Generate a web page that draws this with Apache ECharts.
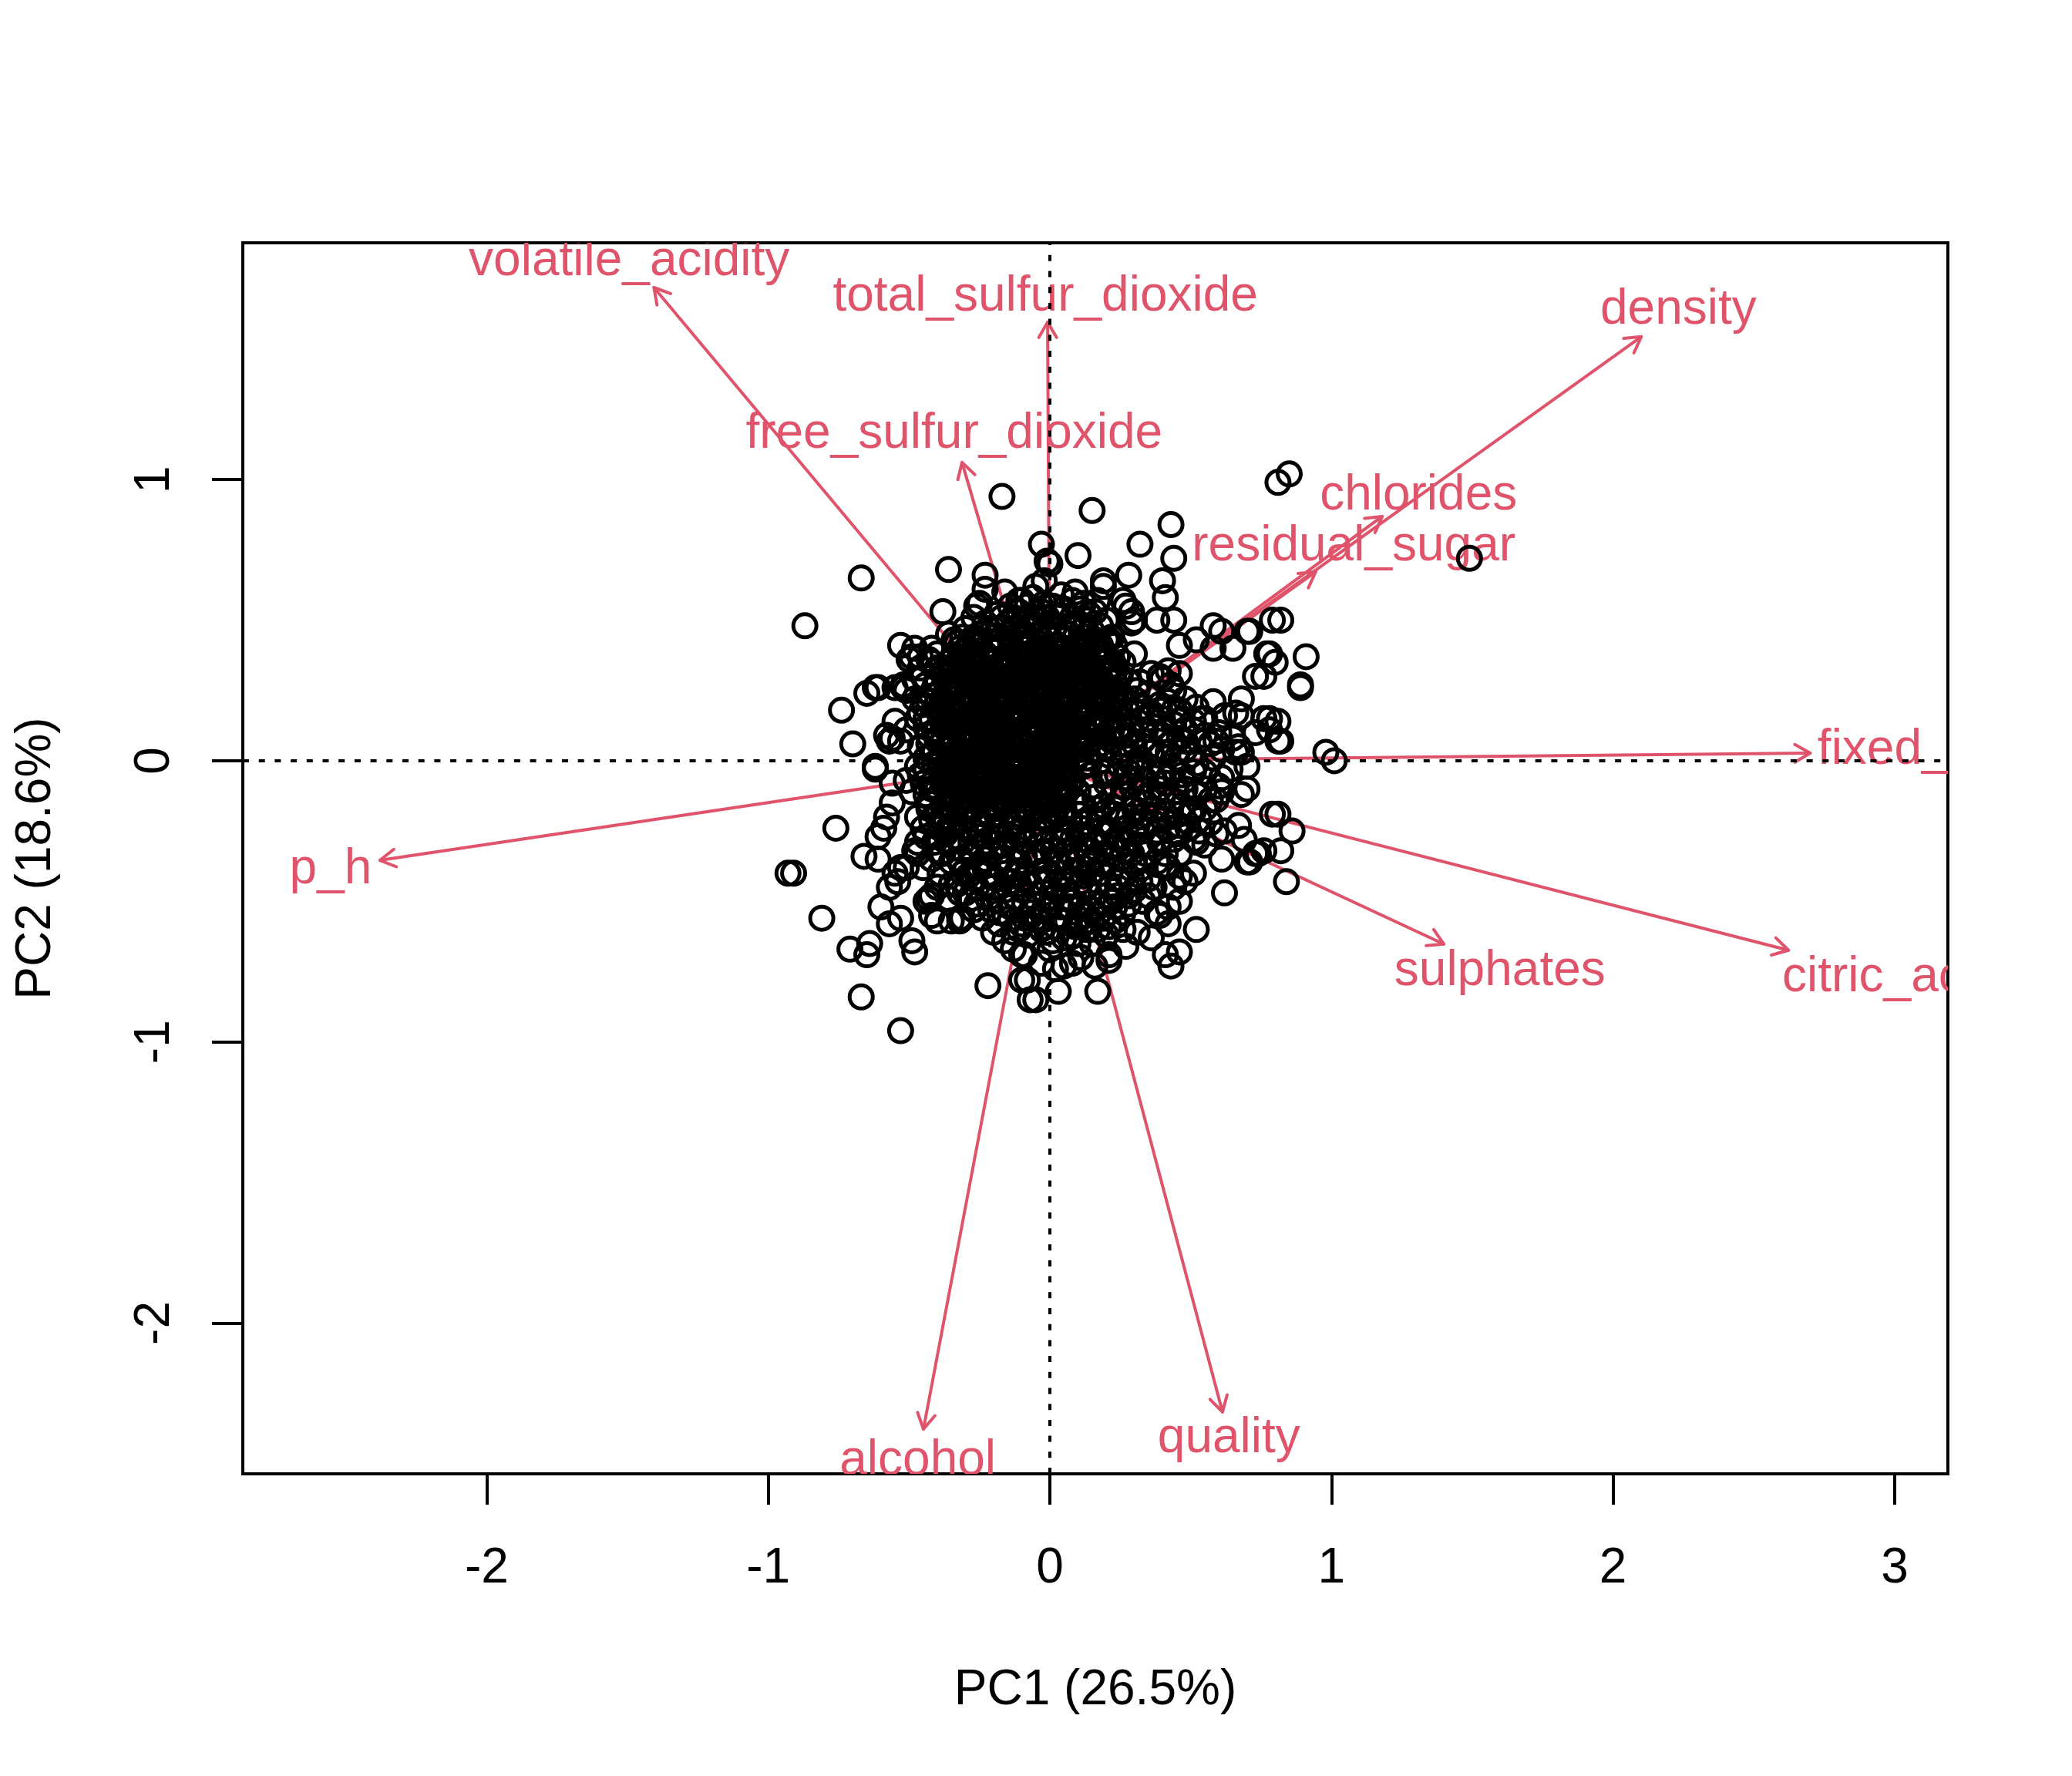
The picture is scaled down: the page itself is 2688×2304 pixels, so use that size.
<!DOCTYPE html>
<html>
<head>
<meta charset="utf-8">
<script src="https://cdn.jsdelivr.net/npm/echarts@6/dist/echarts.min.js"></script>
<style>html,body{margin:0;padding:0;background:#fff;}#chart{width:2688px;height:2304px;}</style>
</head>
<body>
<div id="chart"></div>
<script>
// ---- Variable loadings (arrows) ----
const varNames = ["volatile_acidity","total_sulfur_dioxide","density","free_sulfur_dioxide","chlorides","residual_sugar","fixed_acidity","p_h","sulphates","citric_acid","alcohol","quality"];
const loadX = [-1.406,-0.008,2.100,-0.312,1.180,0.944,2.700,-2.379,1.399,2.623,-0.449,0.613];
const loadY = [1.683,1.560,1.508,1.061,0.869,0.672,0.027,-0.354,-0.652,-0.674,-2.377,-2.316];
const labelX = [-1.494,-0.016,2.232,-0.340,1.309,1.079,3.208,-2.554,1.598,2.990,-0.469,0.636];
const labelY = [1.776,1.650,1.603,1.160,0.943,0.761,0.036,-0.387,-0.749,-0.771,-2.490,-2.410];

// ---- Axis ticks ----
const xTicks = [-2,-1,0,1,2,3];
const yTicks = [-2,-1,0,1];

// ---- Observation scores (PC1, PC2) ----
const rimUpper = [
[-0.17,0.94],[-0.67,0.65],[-0.87,0.48],[-0.36,0.68],[-0.23,0.66],[-0.23,0.61],[-0.25,0.56],[-0.26,0.55],[-0.38,0.53],[-0.34,0.43],[-0.11,0.57],[-0.08,0.55],[-0.48,0.40],[-0.50,0.36],[-0.42,0.35],[-0.46,0.37],[-0.61,0.26],[-0.65,0.24],[-0.52,0.27],[-0.51,0.25],[-0.48,0.22],[-0.74,0.18],[-0.55,0.14],[-0.57,0.07],[-0.56,0.08],[-0.70,0.06],[-0.62,-0.02],[-0.44,0.15],[-0.17,0.51],[-0.22,0.47],[-0.28,0.42],[-0.58,0.09],[-0.55,0.26],[-0.62,0.26],
[0.15,0.89],[0.43,0.84],[0.32,0.77],[0.44,0.72],[0.10,0.73],[-0.03,0.77],[-0.01,0.71],[0.00,0.70],[-0.02,0.64],[0.19,0.64],[0.28,0.66],[0.40,0.64],[0.41,0.58],[0.09,0.60],[0.27,0.55],[0.29,0.49],[0.38,0.50],[0.44,0.50],[0.46,0.41],[0.52,0.43],[0.58,0.48],[0.61,0.46],[0.58,0.40],[0.65,0.40],[0.71,0.46],[0.77,0.38],[0.79,0.50],[0.73,0.30],[0.30,0.38],[0.21,0.43],[0.39,0.30],[0.42,0.32],[0.46,0.31],[0.44,0.25],[0.39,0.18],[0.46,0.18],[0.58,0.21],[0.68,0.22],[0.66,0.17],[0.62,0.16],[0.76,0.15],[0.78,0.11],[0.65,0.08],[0.67,0.05],[0.68,0.03],[0.54,0.15],[0.51,0.11],[0.55,0.09],[0.59,0.07],[0.61,0.04],[0.35,0.15],[0.22,0.15],[0.73,0.10],[0.48,0.07],
[0.81,0.99],[0.85,1.02],[1.49,0.72],[0.82,0.50],[0.78,0.38],[0.80,0.35],[0.91,0.37],[0.89,0.27],[0.89,0.26],[0.76,0.30],[0.78,0.15],[0.82,0.07],[0.81,0.07],[0.98,0.03],[1.01,0.00],[0.70,0.46],[0.81,0.14],[0.68,0.16]
];
const bandUpper = [
[-0.10,0.57],[-0.02,0.56],[0.04,0.59],[0.11,0.54],[0.17,0.57],[0.20,0.50],[0.10,0.49],[0.02,0.52],[-0.05,0.51],[-0.13,0.51],[-0.18,0.47],[-0.10,0.46],[-0.02,0.47],[0.07,0.45],[0.15,0.46],[0.22,0.44],[-0.25,0.45],[-0.31,0.44],[-0.36,0.45],[0.26,0.57],[0.29,0.53],[0.30,0.50],[0.40,0.29],[0.43,0.27],[-0.05,0.62],[-0.16,0.60],[0.19,0.62],
[-0.14,0.42],[-0.06,0.43],[0.02,0.41],[0.11,0.42],[0.18,0.41],[-0.22,0.41],[-0.29,0.40],
[-0.27,0.44],[-0.20,0.44],[-0.15,0.45],[-0.08,0.44],[-0.01,0.44],[0.05,0.43],[0.13,0.44],[0.20,0.43],[-0.23,0.49],[-0.15,0.49],[-0.07,0.48],[0.00,0.49],[0.07,0.48],[0.13,0.50],[-0.11,0.53],[-0.03,0.53],[0.05,0.54],[0.14,0.52],[0.08,0.57],[-0.06,0.58],
[-0.33,0.42],[-0.26,0.42],[-0.18,0.43],[-0.11,0.44],[-0.04,0.45],[0.03,0.45],[0.09,0.44],[0.16,0.43],[0.23,0.41],[-0.30,0.47],[-0.20,0.47],[-0.13,0.47],[-0.05,0.47],[0.04,0.47],[0.12,0.47],[0.18,0.48],[-0.27,0.51],[-0.19,0.52],[-0.09,0.50],[-0.01,0.51],[0.08,0.51],[0.16,0.53],[-0.14,0.55],[0.01,0.55],[0.12,0.56]
];
const bandLeft = [
[-0.53,0.41],[-0.49,0.37],[-0.43,0.36],[-0.52,0.26],[-0.51,0.11],[-0.47,0.15],[-0.42,0.15],[-0.43,0.06],[-0.47,-0.02],[-0.41,-0.07],[-0.49,-0.11],[-0.43,-0.15],[-0.47,-0.20],[-0.39,-0.24],[-0.47,-0.29],[-0.42,-0.35],[-0.51,-0.38],[-0.37,0.24],[-0.40,0.29],[-0.45,0.20],[-0.53,0.07],
[-0.40,0.33],[-0.44,0.27],[-0.39,0.19],[-0.41,0.10],[-0.38,0.02],[-0.44,-0.03],[-0.39,-0.12],[-0.45,-0.08],[-0.40,-0.19],[-0.44,0.01],
[-0.40,0.38],[-0.46,0.33],[-0.38,0.31],[-0.41,0.26],[-0.48,0.29],[-0.38,0.22],[-0.43,0.21],[-0.39,0.16],[-0.44,0.12],[-0.38,0.13],[-0.40,0.07],[-0.46,0.05],[-0.38,0.07],[-0.41,0.03],[-0.39,-0.03],[-0.42,-0.10],[-0.38,-0.07],[-0.44,-0.12],[-0.38,-0.16],[-0.45,-0.24],[-0.41,-0.29],[-0.37,-0.26],[-0.47,-0.33],
[-0.42,0.40],[-0.45,0.30],[-0.42,0.23],[-0.46,0.17],[-0.40,0.11],[-0.43,0.09],[-0.41,-0.01],[-0.46,-0.05],[-0.40,-0.10],[-0.42,-0.21],[-0.37,-0.21],[-0.44,-0.27],[-0.39,-0.33],[-0.45,-0.38],[-0.40,-0.45],[-0.36,-0.49]
];
const bandRight = [
[0.28,0.17],[0.34,0.11],[0.40,0.15],[0.48,0.11],[0.55,0.15],[0.60,0.10],[0.30,0.06],[0.36,0.03],[0.43,0.06],[0.50,0.02],[0.57,0.06],[0.28,-0.04],[0.34,-0.07],[0.40,-0.04],[0.48,-0.07],[0.55,-0.04],[0.60,-0.09],[0.30,-0.14],[0.37,-0.17],[0.43,-0.14],[0.51,-0.18],[0.57,-0.14],[0.31,-0.23],[0.46,-0.23],[0.53,-0.25],
[0.10,0.07],[0.16,0.03],[0.22,0.07],[0.12,-0.02],[0.19,-0.04],[0.25,-0.02],[0.10,-0.11],[0.15,-0.09],[0.22,-0.13],[0.26,-0.09],[0.06,-0.05],[0.12,-0.16],[0.19,-0.16],[0.08,0.03],[0.04,-0.13],
[0.26,0.35],[0.28,0.28],[0.30,0.22],[0.35,0.24],[0.39,0.20],[0.48,0.22],[0.52,0.19],[0.44,0.18],
[0.68,-0.12],[0.61,-0.11],[0.70,-0.02],[0.66,0.03],[0.59,-0.26],[0.74,-0.33],[0.70,-0.36],
[0.25,0.12],[0.31,0.14],[0.37,0.12],[0.44,0.13],[0.51,0.14],[0.27,0.09],[0.33,0.07],[0.40,0.09],[0.46,0.08],[0.53,0.07],[0.26,0.02],[0.32,0.01],[0.39,0.02],[0.45,0.01],[0.52,-0.01],[0.58,0.01],[0.27,-0.06],[0.31,-0.03],[0.37,-0.06],[0.44,-0.03],[0.51,-0.04],[0.26,-0.12],[0.32,-0.10],[0.39,-0.10],[0.45,-0.11],[0.52,-0.12],[0.28,-0.20],[0.34,-0.19],[0.41,-0.19],[0.47,-0.16],[0.53,-0.21],[0.33,0.19],[0.42,0.21],[0.32,0.28],[0.36,0.31],
[0.09,0.00],[0.14,-0.01],[0.21,0.02],[0.08,-0.07],[0.14,-0.05],[0.20,-0.08],[0.24,-0.05],[0.09,-0.14],[0.16,-0.13],[0.23,-0.17],[0.26,0.04],[0.13,0.01],
[0.27,0.20],[0.31,0.25],[0.36,0.17],[0.41,0.11],[0.47,0.15],[0.29,0.11],[0.35,0.05],[0.42,0.03],[0.48,0.04],[0.29,-0.01],[0.35,-0.02],[0.41,-0.08],[0.47,-0.05],[0.29,-0.09],[0.34,-0.15],[0.40,-0.13],[0.46,-0.19],[0.32,-0.20],[0.38,-0.25],[0.44,-0.28],[0.49,-0.24],[0.36,-0.30],[0.41,-0.33],[0.38,-0.36],[0.44,-0.45],[0.37,-0.45]
];
const rimLower = [
[0.81,-0.19],[0.86,-0.25],[0.82,-0.32],[0.76,-0.32],[0.84,-0.43],
[-0.76,-0.24],[-0.91,-0.40],[-0.93,-0.40],[-0.81,-0.56],[-0.71,-0.67],[-0.64,-0.65],[-0.65,-0.69],[-0.67,-0.84],[-0.53,-0.96],[-0.49,-0.64],[-0.48,-0.68],[-0.57,-0.58],[-0.53,-0.56],[-0.60,-0.52],[-0.57,-0.45],[-0.54,-0.43],[-0.55,-0.40],[-0.53,-0.38],[-0.66,-0.34],[-0.61,-0.35],[-0.61,-0.27],[-0.59,-0.24],[-0.58,-0.20],[-0.56,-0.15],[-0.56,-0.08],[-0.62,-0.03],[-0.51,-0.07],[-0.44,-0.50],[-0.42,-0.48],[-0.40,-0.57],[-0.32,-0.57],[-0.31,-0.56],[-0.48,-0.32],[-0.38,-0.33],[-0.35,-0.44],[-0.32,-0.47],[-0.23,-0.44],[-0.30,-0.39],[-0.22,-0.37],[-0.17,-0.35],[-0.13,-0.43],[-0.11,-0.44],[-0.18,-0.54],[-0.13,-0.67],[-0.10,-0.69],[-0.22,-0.80],[-0.10,-0.78],[-0.07,-0.85],[-0.09,-0.56],
[-0.05,-0.85],[0.03,-0.82],[0.17,-0.82],[0.43,-0.73],[0.41,-0.69],[0.46,-0.68],[0.52,-0.60],[0.62,-0.47],[0.70,-0.10],[0.79,-0.19],[0.71,-0.36],[0.73,-0.33],[0.61,-0.35],[0.51,-0.40],[0.46,-0.50],[0.42,-0.52],[0.42,-0.58],[0.38,-0.54],[0.26,-0.60],[0.21,-0.69],[0.21,-0.71],[0.16,-0.73],[0.11,-0.70],[0.05,-0.73],[0.02,-0.74],[-0.09,-0.69],[-0.08,-0.78],[0.67,-0.23],[0.69,-0.28],[0.62,-0.25],[0.57,-0.22],[0.55,-0.17],[0.50,-0.19],[0.42,-0.24],[0.39,-0.28],[0.46,-0.26],[0.51,-0.28],[0.55,-0.30],[0.59,-0.14],[0.61,-0.06],[0.64,-0.03],[0.55,-0.10],[0.48,-0.10],[0.42,-0.06],[0.35,-0.12],[0.30,-0.17],[0.37,-0.22],[0.34,-0.33],[0.41,-0.37],[0.46,-0.41],[0.30,-0.37],[0.28,-0.48],[0.35,-0.48],[0.32,-0.43],[0.23,-0.52],[0.19,-0.56],[0.14,-0.60],[0.10,-0.65],[0.00,-0.67],[-0.03,-0.72],[0.08,-0.72]
];
const bandLower = [
[-0.34,-0.22],[-0.27,-0.25],[-0.21,-0.20],[-0.14,-0.24],[-0.09,-0.29],[-0.02,-0.25],[0.04,-0.29],[0.11,-0.24],[0.17,-0.29],[0.22,-0.25],[0.28,-0.29],[0.33,-0.25],[0.39,-0.29],[0.46,-0.33],[0.52,-0.29],
[-0.32,-0.35],[-0.25,-0.38],[-0.18,-0.35],[-0.12,-0.40],[-0.05,-0.36],[0.00,-0.41],[0.07,-0.36],[0.12,-0.41],[0.19,-0.37],[0.24,-0.42],[0.30,-0.36],[0.35,-0.42],[0.42,-0.38],[0.48,-0.43],
[-0.30,-0.47],[-0.22,-0.49],[-0.16,-0.46],[-0.09,-0.50],[-0.02,-0.47],[0.04,-0.52],[0.10,-0.47],[0.15,-0.53],[0.20,-0.48],[0.26,-0.54],[0.33,-0.50],[0.39,-0.55],
[-0.05,-0.56],[0.02,-0.59],[0.10,-0.56],[0.17,-0.60],[0.23,-0.57],[-0.14,-0.56],[-0.43,-0.49],[-0.42,-0.55],[-0.32,-0.56],[-0.35,-0.57],
[-0.07,-0.20],[0.02,-0.18],[0.07,-0.21],[0.15,-0.20],[0.20,-0.18],[-0.05,-0.25],[0.08,-0.28],[-0.02,-0.32],[0.06,-0.32],[0.13,-0.32],[0.02,-0.44],[0.11,-0.43],[0.17,-0.43],[0.07,-0.52],[0.13,-0.55],[-0.02,-0.53],
[-0.43,-0.17],[-0.36,-0.29],[-0.29,-0.18],[-0.22,-0.29],[-0.16,-0.30],[-0.39,-0.40],[-0.27,-0.42],
[-0.11,-0.22],[0.00,-0.22],[0.10,-0.26],[0.18,-0.22],[0.25,-0.21],[-0.06,-0.33],[0.03,-0.36],[0.09,-0.39],[0.16,-0.34],[0.22,-0.31],[-0.04,-0.43],[0.05,-0.46],[0.14,-0.47],[0.21,-0.45],[0.09,-0.59],[-0.08,-0.62],[0.05,-0.63],[0.15,-0.65],[-0.19,-0.27],[-0.25,-0.31],[-0.31,-0.29],[-0.12,-0.31],[-0.19,-0.42],[-0.26,-0.51],[-0.12,-0.49],[-0.20,-0.61],[-0.16,-0.64],[0.27,-0.66],[0.31,-0.61],[0.36,-0.63],
[-0.38,-0.20],[-0.31,-0.21],[-0.24,-0.22],[-0.17,-0.22],[-0.10,-0.25],[-0.04,-0.22],[0.05,-0.24],[0.13,-0.22],[0.20,-0.26],[0.27,-0.24],
[-0.40,-0.27],[-0.33,-0.27],[-0.28,-0.33],[-0.21,-0.33],[-0.15,-0.27],[-0.09,-0.34],[-0.03,-0.28],[0.01,-0.32],[0.09,-0.31],[0.15,-0.27],[0.20,-0.33],[0.26,-0.32],[0.32,-0.30],
[-0.35,-0.36],[-0.29,-0.41],[-0.22,-0.40],[-0.15,-0.38],[-0.08,-0.40],[-0.02,-0.39],[0.04,-0.40],[0.10,-0.36],[0.15,-0.40],[0.22,-0.38],[0.27,-0.40],[0.33,-0.38],
[-0.33,-0.44],[-0.26,-0.45],[-0.17,-0.50],[-0.10,-0.46],[-0.06,-0.51],[0.01,-0.49],[0.08,-0.50],[0.13,-0.45],[0.18,-0.51],[0.24,-0.48],[0.30,-0.46],
[-0.24,-0.56],[-0.10,-0.58],[-0.03,-0.60],[0.06,-0.57],[0.13,-0.60],[0.20,-0.62],[0.01,-0.64],[-0.13,-0.61],
[-0.36,-0.24],[-0.30,-0.24],[-0.25,-0.27],[-0.19,-0.24],[-0.13,-0.27],[-0.07,-0.27],[-0.01,-0.29],[0.06,-0.26],[0.12,-0.28],[0.18,-0.25],[0.24,-0.28],[0.30,-0.26],
[-0.34,-0.31],[-0.28,-0.29],[-0.23,-0.35],[-0.17,-0.32],[-0.11,-0.36],[-0.04,-0.34],[0.02,-0.35],[0.08,-0.34],[0.14,-0.37],[0.19,-0.30],[0.25,-0.35],[0.29,-0.33],
[-0.31,-0.40],[-0.26,-0.38],[-0.20,-0.45],[-0.14,-0.43],[-0.07,-0.44],[-0.01,-0.43],[0.06,-0.42],[0.12,-0.38],[0.18,-0.40],[0.24,-0.45],[0.29,-0.42],
[-0.28,-0.49],[-0.21,-0.53],[-0.14,-0.52],[-0.07,-0.54],[0.00,-0.52],[0.06,-0.49],[0.11,-0.52],[0.17,-0.55],[0.22,-0.50],[0.28,-0.51],
[-0.18,-0.58],[-0.11,-0.60],[-0.04,-0.57],[0.03,-0.56],[0.08,-0.62],[0.15,-0.57],[0.21,-0.59],[-0.27,-0.53],[-0.01,-0.61],[0.11,-0.59],
[-0.08,-0.19],[-0.02,-0.20],[0.04,-0.19],[0.10,-0.19],[0.17,-0.17],[0.23,-0.19],[-0.34,-0.19],[-0.26,-0.21],[-0.19,-0.19],[-0.13,-0.20]
];
const coreDense = [
[-0.34,0.37],[-0.30,0.39],[-0.27,0.38],[-0.23,0.36],[-0.19,0.39],[-0.16,0.37],[-0.12,0.38],[-0.08,0.40],[-0.05,0.37],[-0.01,0.38],[0.03,0.39],[0.06,0.37],
[-0.36,0.35],[-0.32,0.34],[-0.28,0.35],[-0.25,0.33],[-0.21,0.35],[-0.17,0.34],[-0.14,0.36],[-0.10,0.34],[-0.06,0.35],[-0.03,0.33],[0.01,0.35],[0.05,0.34],
[-0.35,0.31],[-0.31,0.32],[-0.27,0.30],[-0.23,0.32],[-0.20,0.31],[-0.16,0.32],[-0.12,0.30],[-0.08,0.32],[-0.04,0.31],[-0.01,0.30],[0.03,0.32],[0.06,0.31],
[-0.34,0.28],[-0.30,0.29],[-0.26,0.27],[-0.22,0.29],[-0.18,0.28],[-0.14,0.27],[-0.11,0.29],[-0.07,0.28],[-0.03,0.27],[0.00,0.29],[0.04,0.28],
[-0.36,0.25],[-0.32,0.26],[-0.28,0.24],[-0.25,0.26],[-0.21,0.25],[-0.17,0.24],[-0.13,0.26],[-0.09,0.25],[-0.05,0.24],[-0.02,0.26],[0.02,0.25],[0.05,0.24],
[-0.35,0.22],[-0.31,0.21],[-0.27,0.23],[-0.23,0.21],[-0.19,0.22],[-0.15,0.21],[-0.12,0.23],[-0.08,0.21],[-0.04,0.22],[0.00,0.21],[0.03,0.23],[0.06,0.21],
[-0.34,0.18],[-0.30,0.19],[-0.26,0.18],[-0.22,0.17],[-0.18,0.19],[-0.14,0.18],[-0.10,0.17],[-0.06,0.19],[-0.02,0.18],[0.02,0.17],[0.05,0.19],
[-0.36,0.15],[-0.32,0.16],[-0.28,0.14],[-0.24,0.16],[-0.20,0.15],[-0.17,0.14],[-0.13,0.16],[-0.09,0.15],[-0.05,0.14],[-0.01,0.16],[0.03,0.15],[0.06,0.14],
[-0.35,0.12],[-0.31,0.11],[-0.27,0.13],[-0.23,0.11],[-0.19,0.12],[-0.15,0.11],[-0.11,0.13],[-0.07,0.11],[-0.04,0.12],[0.00,0.11],[0.04,0.13],
[-0.34,0.08],[-0.30,0.09],[-0.26,0.08],[-0.22,0.10],[-0.18,0.08],[-0.14,0.09],[-0.10,0.07],[-0.06,0.09],[-0.02,0.08],[0.02,0.09],[0.05,0.07],
[-0.36,0.05],[-0.32,0.04],[-0.28,0.06],[-0.24,0.04],[-0.21,0.05],[-0.17,0.06],[-0.13,0.04],[-0.09,0.05],[-0.05,0.04],[-0.01,0.06],[0.03,0.05],[0.06,0.04],
[-0.35,0.01],[-0.31,0.02],[-0.27,0.00],[-0.23,0.02],[-0.19,0.01],[-0.15,0.03],[-0.11,0.01],[-0.07,0.02],[-0.03,0.00],[0.01,0.02],[0.04,0.01],
[-0.34,-0.02],[-0.30,-0.01],[-0.26,-0.03],[-0.22,-0.01],[-0.18,-0.02],[-0.14,-0.03],[-0.10,-0.01],[-0.06,-0.02],[-0.02,-0.03],[0.02,-0.01],[0.05,-0.02],
[-0.36,-0.05],[-0.32,-0.06],[-0.28,-0.04],[-0.24,-0.06],[-0.20,-0.05],[-0.16,-0.04],[-0.12,-0.06],[-0.08,-0.05],[-0.04,-0.06],[0.00,-0.04],[0.03,-0.05],[0.06,-0.06],
[-0.35,-0.09],[-0.31,-0.08],[-0.27,-0.10],[-0.23,-0.08],[-0.19,-0.09],[-0.15,-0.08],[-0.11,-0.10],[-0.07,-0.08],[-0.03,-0.09],[0.01,-0.08],[0.04,-0.10],
[-0.34,-0.12],[-0.30,-0.11],[-0.26,-0.13],[-0.22,-0.12],[-0.18,-0.11],[-0.14,-0.13],[-0.10,-0.12],[-0.06,-0.11],[-0.02,-0.13],[0.02,-0.12],[0.05,-0.11],
[-0.33,-0.15],[-0.29,-0.16],[-0.25,-0.14],[-0.21,-0.16],[-0.17,-0.15],[-0.13,-0.14],[-0.09,-0.16],[-0.05,-0.15],[-0.01,-0.14],[0.03,-0.16]
];
const coreFill = [
[-0.32,0.40],[-0.25,0.41],[-0.21,0.40],[-0.14,0.40],[-0.10,0.41],[-0.03,0.40],[0.01,0.41],[0.05,0.40],
[-0.35,0.36],[-0.31,0.37],[-0.27,0.36],[-0.23,0.38],[-0.19,0.36],[-0.15,0.37],[-0.11,0.36],[-0.07,0.37],[-0.03,0.36],[0.01,0.37],[0.04,0.36],
[-0.37,0.33],[-0.34,0.33],[-0.30,0.34],[-0.26,0.33],[-0.22,0.33],[-0.18,0.34],[-0.15,0.33],[-0.11,0.33],[-0.07,0.34],[-0.04,0.33],[0.03,0.34],[0.07,0.33],
[-0.33,0.30],[-0.29,0.31],[-0.25,0.30],[-0.21,0.30],[-0.17,0.30],[-0.13,0.31],[-0.09,0.30],[-0.06,0.30],[-0.02,0.31],[0.02,0.30],[0.05,0.30],
[-0.36,0.27],[-0.32,0.27],[-0.28,0.28],[-0.24,0.28],[-0.20,0.27],[-0.16,0.28],[-0.12,0.28],[-0.08,0.27],[-0.04,0.28],[0.02,0.27],[0.06,0.27],
[-0.34,0.24],[-0.30,0.23],[-0.26,0.25],[-0.22,0.23],[-0.18,0.24],[-0.14,0.23],[-0.10,0.24],[-0.06,0.23],[-0.02,0.24],[0.01,0.23],[0.04,0.24],
[-0.36,0.20],[-0.32,0.20],[-0.28,0.20],[-0.24,0.19],[-0.20,0.20],[-0.17,0.20],[-0.13,0.19],[-0.09,0.20],[-0.05,0.20],[-0.01,0.19],[0.03,0.20],[0.06,0.20],
[-0.35,0.17],[-0.31,0.17],[-0.27,0.16],[-0.23,0.17],[-0.19,0.17],[-0.15,0.16],[-0.11,0.16],[-0.07,0.17],[-0.03,0.16],[0.01,0.17],[0.04,0.17],
[-0.34,0.13],[-0.30,0.14],[-0.26,0.14],[-0.22,0.13],[-0.18,0.14],[-0.14,0.14],[-0.10,0.14],[-0.06,0.13],[-0.02,0.14],[0.02,0.14],[0.05,0.12],
[-0.36,0.10],[-0.32,0.10],[-0.28,0.10],[-0.24,0.09],[-0.20,0.10],[-0.16,0.10],[-0.12,0.10],[-0.08,0.10],[-0.04,0.10],[0.00,0.09],[0.03,0.10],[0.06,0.10],
[-0.35,0.07],[-0.31,0.06],[-0.27,0.07],[-0.23,0.07],[-0.19,0.06],[-0.15,0.07],[-0.11,0.07],[-0.07,0.06],[-0.03,0.07],[0.01,0.07],[0.05,0.06],
[-0.34,0.03],[-0.30,0.03],[-0.26,0.03],[-0.22,0.03],[-0.18,0.04],[-0.13,0.02],[-0.09,0.03],[-0.05,0.02],[-0.02,0.03],[0.02,0.04],[0.06,0.02],
[-0.36,0.00],[-0.32,0.00],[-0.29,0.01],[-0.25,0.00],[-0.21,-0.01],[-0.17,0.00],[-0.13,-0.01],[-0.09,0.00],[-0.05,-0.01],[-0.01,0.00],[0.03,-0.01],[0.06,0.00],
[-0.35,-0.04],[-0.31,-0.03],[-0.27,-0.04],[-0.23,-0.04],[-0.19,-0.03],[-0.15,-0.05],[-0.11,-0.04],[-0.07,-0.04],[-0.03,-0.04],[0.01,-0.03],[0.04,-0.04],
[-0.34,-0.07],[-0.30,-0.07],[-0.26,-0.06],[-0.22,-0.07],[-0.18,-0.07],[-0.14,-0.06],[-0.10,-0.07],[-0.06,-0.07],[-0.02,-0.06],[0.02,-0.07],[0.05,-0.08],
[-0.36,-0.11],[-0.32,-0.10],[-0.28,-0.11],[-0.24,-0.10],[-0.21,-0.11],[-0.17,-0.10],[-0.13,-0.11],[-0.09,-0.10],[-0.05,-0.10],[-0.01,-0.11],[0.03,-0.10],[0.06,-0.11],
[-0.35,-0.14],[-0.31,-0.13],[-0.27,-0.14],[-0.23,-0.14],[-0.19,-0.13],[-0.16,-0.14],[-0.12,-0.13],[-0.08,-0.14],[-0.04,-0.13],[0.00,-0.14],[0.04,-0.14],
[-0.31,-0.18],[-0.27,-0.17],[-0.23,-0.18],[-0.19,-0.17],[-0.15,-0.18],[-0.11,-0.17],[-0.07,-0.18],[-0.03,-0.17],[0.01,-0.18],[0.05,-0.17]
];
const coreRight = [
[0.09,0.38],[0.13,0.37],[0.16,0.39],[0.20,0.37],
[0.08,0.34],[0.11,0.35],[0.15,0.33],[0.18,0.35],[0.22,0.34],
[0.10,0.31],[0.13,0.32],[0.17,0.30],[0.21,0.31],
[0.08,0.28],[0.12,0.27],[0.15,0.29],[0.19,0.27],[0.23,0.28],
[0.10,0.24],[0.14,0.25],[0.17,0.23],[0.21,0.25],
[0.08,0.21],[0.12,0.20],[0.16,0.22],[0.19,0.20],[0.23,0.21],
[0.10,0.17],[0.14,0.18],[0.18,0.16],[0.21,0.18],
[0.08,0.14],[0.12,0.13],[0.16,0.15],[0.20,0.13],
[0.10,0.10],[0.14,0.09],[0.17,0.11],[0.21,0.08],
[0.09,0.06],[0.13,0.05],[0.18,0.06],
[0.11,0.40],[0.18,0.39],[0.24,0.37],[0.07,0.36],[0.14,0.35],[0.21,0.36],[0.09,0.33],[0.16,0.31],[0.23,0.32],[0.07,0.30],[0.11,0.29],[0.18,0.29],[0.25,0.30],[0.09,0.26],[0.16,0.26],[0.23,0.25],[0.07,0.23],[0.12,0.23],[0.19,0.23],[0.25,0.23],[0.10,0.19],[0.17,0.19],[0.23,0.18],[0.07,0.17],[0.12,0.16],[0.19,0.15],[0.25,0.15],[0.10,0.12],[0.15,0.12],[0.22,0.11],[0.07,0.09],[0.12,0.08],[0.19,0.09],[0.24,0.10],[0.11,0.04],[0.16,0.04],[0.21,0.05]
];

const RED = '#DF536B';
const FONT = '"Liberation Sans", Arial, Helvetica, sans-serif';
const scores = [].concat(rimUpper, bandUpper, bandLeft, bandRight, rimLower, bandLower, coreDense, coreFill, coreRight);
const arrowData = varNames.map((n, i) => [loadX[i], loadY[i]]);
const labelData = varNames.map((n, i) => [labelX[i], labelY[i]]);

const chart = echarts.init(document.getElementById('chart'), null, {renderer: 'canvas'});

function renderArrow(params, api) {
  const o = api.coord([0, 0]);
  const t = api.coord([api.value(0), api.value(1)]);
  const ang = Math.atan2(t[1] - o[1], t[0] - o[0]);
  const L = 23, a = Math.PI / 6;
  const b1 = [t[0] - L * Math.cos(ang - a), t[1] - L * Math.sin(ang - a)];
  const b2 = [t[0] - L * Math.cos(ang + a), t[1] - L * Math.sin(ang + a)];
  return {
    type: 'group',
    children: [
      {type: 'line', shape: {x1: o[0], y1: o[1], x2: t[0], y2: t[1]}, style: {stroke: RED, lineWidth: 4, lineCap: 'round'}},
      {type: 'polyline', shape: {points: [b1, t, b2]}, style: {stroke: RED, lineWidth: 4, fill: null, lineCap: 'round', lineJoin: 'round'}}
    ]
  };
}
function renderLabel(params, api) {
  const p = api.coord([api.value(0), api.value(1)]);
  return {
    type: 'text', x: p[0], y: p[1],
    style: {text: varNames[params.dataIndex], fill: RED, fontSize: 64, fontFamily: FONT, align: 'center', verticalAlign: 'middle'}
  };
}

const option = {
  animation: false,
  backgroundColor: '#ffffff',
  grid: {left: 315, right: 161, top: 315, bottom: 392, show: true, borderColor: '#000', borderWidth: 4, backgroundColor: 'transparent', containLabel: false, outerBoundsMode: 'none'},
  xAxis: {
    type: 'value', min: -2.866, max: 3.189,
    name: 'PC1 (26.5%)', nameLocation: 'middle', nameGap: 249, nameMoveOverlap: false,
    nameTextStyle: {fontSize: 64, color: '#000', fontFamily: FONT},
    axisLine: {show: false, onZero: false},
    splitLine: {show: false},
    axisTick: {show: true, length: 40, inside: false, customValues: xTicks, lineStyle: {color: '#000', width: 4}},
    axisLabel: {show: true, customValues: xTicks, fontSize: 64, color: '#000', fontFamily: FONT, margin: 91}
  },
  yAxis: {
    type: 'value', min: -2.536, max: 1.842,
    name: 'PC2 (18.6%)', nameLocation: 'middle', nameGap: 236, nameMoveOverlap: false,
    nameTextStyle: {fontSize: 64, color: '#000', fontFamily: FONT},
    axisLine: {show: false, onZero: false},
    splitLine: {show: false},
    axisTick: {show: true, length: 40, inside: false, customValues: yTicks, lineStyle: {color: '#000', width: 4}},
    axisLabel: {show: true, customValues: yTicks, rotate: 90, fontSize: 64, color: '#000', fontFamily: FONT, margin: 82}
  },
  series: [
    {type: 'custom', name: 'arrows', data: arrowData, renderItem: renderArrow, z: 1, silent: true, clip: true, encode: {x: 0, y: 1}},
    {type: 'custom', name: 'labels', data: labelData, renderItem: renderLabel, z: 1, silent: true, clip: true, encode: {x: 0, y: 1}},
    {type: 'scatter', name: 'scores', data: scores, symbol: 'circle', symbolSize: 30, z: 3, silent: true, clip: true,
     progressive: 0, large: false, itemStyle: {color: 'rgba(0,0,0,0)', borderColor: '#000', borderWidth: 5, opacity: 1}},
    {type: 'scatter', name: 'zero', data: [], z: 4, silent: true,
     markLine: {silent: true, animation: false, symbol: ['none', 'none'], label: {show: false},
       lineStyle: {color: '#000', width: 4, type: [8, 12.7], cap: 'butt'},
       emphasis: {disabled: true},
       data: [{xAxis: 0}, {yAxis: 0}]}}
  ]
};
chart.setOption(option);
</script>
</body>
</html>
